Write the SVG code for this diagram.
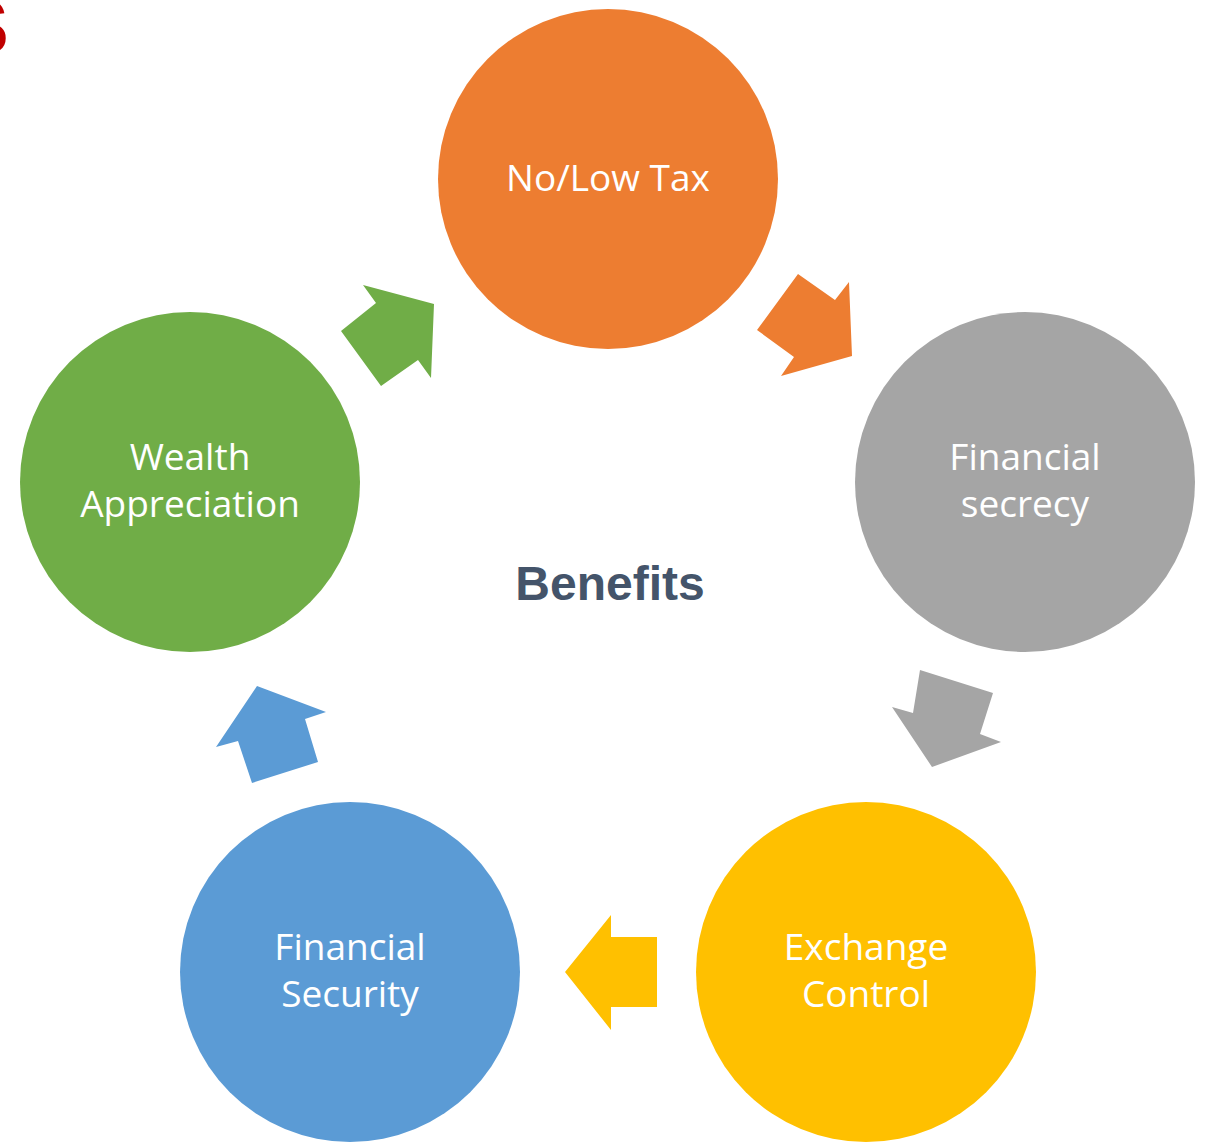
<svg xmlns="http://www.w3.org/2000/svg" width="1208" height="1142" viewBox="0 0 1208 1142">
<style>
.lbl{font-family:"Open Sans","Noto Sans",sans-serif;font-size:37px;fill:#FFFFFF;text-anchor:middle}
.title{font-family:"Liberation Sans",Arial,sans-serif;font-size:48px;font-weight:bold;fill:#44546A;text-anchor:middle}
</style>
<rect width="1208" height="1142" fill="#FFFFFF"/>
<text x="-42" y="53" font-family="Liberation Sans,Arial,sans-serif" font-weight="bold" font-size="76" fill="#C00000">S</text>
<g id="connectors">
<polygon points="798,274 835,300 849,282 852,356 781,376 794,357 757,330" fill="#ED7D31"/>
<polygon points="920,670 993,693 980,734 1001,742 932,767 892,707 913,713" fill="#A5A5A5"/>
<polygon points="565,972 611,915 611,937 657,937 657,1007 611,1007 611,1030" fill="#FFC000"/>
<polygon points="257,686 326,712 305,719 318,762 252,783 238,741 216,747" fill="#5B9BD5"/>
<polygon points="363,285 434,304 431,378 418,360 381,386 341,331 376,303" fill="#70AD47"/>
</g>
<g id="node-tax">
<circle cx="608" cy="179" r="170" fill="#ED7D31"/>
<text class="lbl" x="608" y="191">No/Low Tax</text>
</g>
<g id="node-secrecy">
<circle cx="1025" cy="482" r="170" fill="#A5A5A5"/>
<text class="lbl" x="1025" y="470">Financial</text>
<text class="lbl" x="1025" y="517">secrecy</text>
</g>
<g id="node-exchange">
<circle cx="866" cy="972" r="170" fill="#FFC000"/>
<text class="lbl" x="866" y="960">Exchange</text>
<text class="lbl" x="866" y="1007">Control</text>
</g>
<g id="node-security">
<circle cx="350" cy="972" r="170" fill="#5B9BD5"/>
<text class="lbl" x="350" y="960">Financial</text>
<text class="lbl" x="350" y="1007">Security</text>
</g>
<g id="node-wealth">
<circle cx="190" cy="482" r="170" fill="#70AD47"/>
<text class="lbl" x="190" y="470">Wealth</text>
<text class="lbl" x="190" y="517">Appreciation</text>
</g>
<g id="center">
<text class="title" x="610" y="600">Benefits</text>
</g>
</svg>
